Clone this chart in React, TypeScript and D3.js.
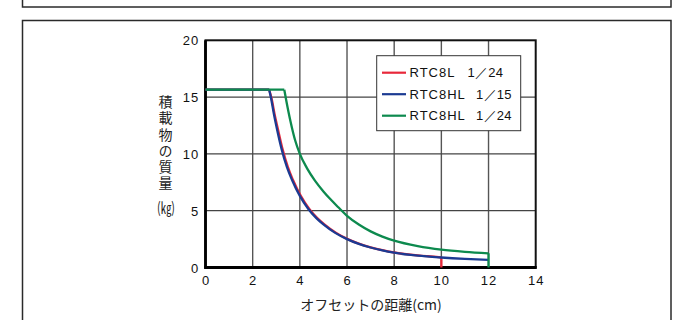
import React from "react";
import * as d3 from "d3";

const xTicks = [0, 2, 4, 6, 8, 10, 12, 14];
const yTicks = [0, 5, 10, 15, 20];

const flatLevel = 15.65;

// RTC8L 1/24
const redX = [2.7, 2.8, 2.93, 3.09, 3.27, 3.49, 3.71, 4.04, 4.4, 4.74, 5.04, 5.54, 6.03, 6.5, 7, 7.5, 8, 9, 10];
const redY = [15.65, 14.9, 13.5, 12.0, 10.4, 8.85, 7.7, 6.3, 5.15, 4.35, 3.8, 3.05, 2.5, 2.1, 1.78, 1.52, 1.32, 1.06, 0.9];
// RTC8HL 1/15
const blueX = [2.7, 2.78, 2.9, 3.05, 3.23, 3.45, 3.67, 4.0, 4.36, 4.7, 5.0, 5.5, 6.0, 6.5, 7, 7.5, 8, 9, 10, 11, 12];
const blueY = [15.65, 14.9, 13.5, 12.0, 10.4, 8.85, 7.7, 6.3, 5.15, 4.35, 3.8, 3.05, 2.5, 2.08, 1.76, 1.5, 1.3, 1.04, 0.88, 0.76, 0.67];
// RTC8HL 1/24
const greenX = [3.34, 3.42, 3.6, 3.8, 4.0, 4.3, 4.64, 5.0, 5.3, 5.63, 6.0, 6.5, 7, 7.5, 8, 9, 10, 11, 12];
const greenY = [15.65, 14.75, 12.9, 11.2, 10.0, 8.75, 7.65, 6.7, 6.0, 5.3, 4.55, 3.78, 3.18, 2.72, 2.36, 1.88, 1.57, 1.38, 1.25];

const seriesNames = ["RTC8L", "RTC8HL", "RTC8HL"];
const seriesRatios = ["1／24", "1／15", "1／24"];
const seriesColors = ["#e8283a", "#1b3a92", "#0d8a4e"];
const dropToZero = [true, false, true];

const yTitle = "積載物の質量";
const yUnit = "(㎏)";
const xTitle = "オフセットの距離(cm)";

export default function App() {
  const x = d3.scaleLinear().domain([0, 14]).range([205.5, 535.7]);
  const y = d3.scaleLinear().domain([0, 20]).range([267.5, 40.3]);

  const series = [
    { xs: redX, ys: redY },
    { xs: blueX, ys: blueY },
    { xs: greenX, ys: greenY },
  ];

  const curve = d3
    .line<[number, number]>()
    .x((d) => x(d[0]))
    .y((d) => y(d[1]))
    .curve(d3.curveMonotoneX);
  const straight = d3
    .line<[number, number]>()
    .x((d) => x(d[0]))
    .y((d) => y(d[1]));

  const latin = "'Liberation Sans', Arial, Helvetica, sans-serif";
  const cjk = "'Noto Sans CJK JP', 'Noto Sans', sans-serif";

  const [x0, x1] = x.range();
  const [yb, yt] = y.range();

  return (
    <svg
      width={684}
      height={320}
      style={{ position: "absolute", left: 0, top: 0, background: "#fff" }}
    >
      {/* outer boxes */}
      <rect x={22.5} y={-10} width={648.5} height={17} fill="none" stroke="#2a2a2a" strokeWidth={1.5} />
      <rect x={22.5} y={20.5} width={648.5} height={320} fill="none" stroke="#2a2a2a" strokeWidth={1.5} />

      {/* grid */}
      {xTicks.filter((t) => t > 0 && t < 14).map((t) => (
        <line key={"gx" + t} x1={x(t)} x2={x(t)} y1={yt} y2={yb} stroke="#555" strokeWidth={1.4} />
      ))}
      {yTicks.filter((t) => t > 0 && t < 20).map((t) => (
        <line key={"gy" + t} x1={x0} x2={x1} y1={y(t)} y2={y(t)} stroke="#444" strokeWidth={1.3} />
      ))}

      {/* frame */}
      <rect x={x0} y={yt} width={x1 - x0} height={yb - yt} fill="none" stroke="#111" strokeWidth={2} />
      <line x1={x0} x2={x0} y1={yt} y2={yb + 1.2} stroke="#000" strokeWidth={2.8} />
      <line x1={x0 - 1.2} x2={x1 + 1} y1={yb} y2={yb} stroke="#000" strokeWidth={2.8} />

      {/* series */}
      {series.map((s, i) => {
        const pts: [number, number][] = s.xs.map((v, j) => [v, s.ys[j]]);
        const first = pts[0];
        const last = pts[pts.length - 1];
        return (
          <g key={"s" + i} fill="none" stroke={seriesColors[i]} strokeWidth={2.3} strokeLinecap="butt" strokeLinejoin="round">
            <path d={straight([[0, flatLevel], first]) || ""} />
            <path d={curve(pts) || ""} />
            {dropToZero[i] && <path d={straight([last, [last[0], 0]]) || ""} />}
          </g>
        );
      })}

      {/* legend */}
      <rect x={376.7} y={55.7} width={144} height={75} fill="#fff" stroke="#333" strokeWidth={1} />
      {seriesNames.map((n, i) => {
        const ly = 72.7 + i * 21.5;
        return (
          <g key={"lg" + i}>
            <line x1={382} x2={406} y1={ly} y2={ly} stroke={seriesColors[i]} strokeWidth={2.2} />
            <text x={409.5} y={ly + 4.7} fontFamily={latin} fontSize={13} letterSpacing={1} fill="#111">
              {n}
            </text>
            <text x={i === 0 ? 467.5 : 476} y={ly + 4.7} fontFamily={latin} fontSize={13} letterSpacing={0.3} fill="#111">
              {seriesRatios[i]}
            </text>
          </g>
        );
      })}

      {/* x tick labels */}
      {xTicks.map((t) => (
        <text key={"xt" + t} x={x(t) + 0.5} y={285} textAnchor="middle" fontFamily={latin} fontSize={13} letterSpacing={1} fill="#111">
          {t}
        </text>
      ))}
      {/* y tick labels */}
      {yTicks.map((t) => (
        <text key={"yt" + t} x={199.3} y={y(t) + 5} textAnchor="end" fontFamily={latin} fontSize={13} letterSpacing={1} fill="#111">
          {t}
        </text>
      ))}

      {/* y title vertical */}
      <text
        x={165.5}
        y={95}
        fontFamily={cjk}
        fontSize={14}
        letterSpacing={2.1}
        fill="#222"
        style={{ writingMode: "vertical-rl" as any }}
      >
        {yTitle}
      </text>
      <text
        x={157}
        y={206}
        dominantBaseline="central"
        fontFamily={cjk}
        fontSize={15}
        textLength={18}
        lengthAdjust="spacingAndGlyphs"
        fill="#222"
      >
        {yUnit}
      </text>

      {/* x title */}
      <text x={371} y={309.5} textAnchor="middle" fontFamily={cjk} fontSize={14} fill="#222">
        {xTitle}
      </text>
    </svg>
  );
}
